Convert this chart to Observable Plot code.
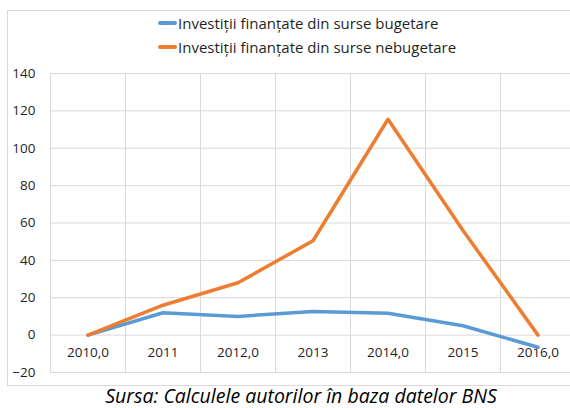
<!DOCTYPE html>
<html>
<head>
<meta charset="utf-8">
<script src="https://cdn.jsdelivr.net/npm/d3@7"></script>
<script src="https://cdn.jsdelivr.net/npm/@observablehq/plot@0.6"></script>
<style>
  html, body { margin: 0; padding: 0; background: #fff; }
  #wrap { position: relative; width: 570px; height: 408px; overflow: hidden; font-family: "Open Sans", sans-serif; }
  #frame { position: absolute; left: 7px; top: 10px; width: 600px; height: 376px; border: 1px solid #d9d9d9; box-sizing: border-box; }
  #legend { position: absolute; left: 158px; top: 11px; font-size: 15px; color: #1f1f1f; line-height: 24px; }
  #legend .item { display: flex; align-items: center; white-space: nowrap; }
  #legend .sw { width: 19px; height: 3.5px; margin-right: 1px; border-radius: 2px; }
  #caption { position: absolute; left: 0; width: 602px; top: 384px; text-align: center; font-style: italic; font-size: 19.5px; line-height: 24px; color: #000; }
  #chart { position: absolute; left: 0; top: 0; }
</style>
</head>
<body>
<div id="wrap">
  <div id="frame"></div>
  <div id="chart"></div>
  <div id="legend"></div>
  <div id="caption">Sursa: Calculele autorilor în baza datelor BNS</div>
</div>
<script>
const years = ["2010,0", "2011", "2012,0", "2013", "2014,0", "2015", "2016,0"];
const bugetare = [0, 12, 10, 12.7, 11.7, 5, -6.5];
const nebugetare = [0, 16, 28, 50.5, 115.5, 56, 0];
const seriesNames = ["Investiții finanțate din surse bugetare", "Investiții finanțate din surse nebugetare"];
const colors = ["#5B9BD5", "#ED7D31"];
const yTicks = [-20, 0, 20, 40, 60, 80, 100, 120, 140];

const rows = [];
years.forEach((y, i) => {
  rows.push({i, label: y, value: bugetare[i], series: seriesNames[0]});
  rows.push({i, label: y, value: nebugetare[i], series: seriesNames[1]});
});
const idx = years.map((_, i) => i);
const bounds = d3.range(-0.5, years.length, 1);

const chart = Plot.plot({
  width: 570,
  height: 408,
  marginLeft: 50,
  marginRight: -5,
  marginTop: 73,
  marginBottom: 36,
  style: {fontFamily: "Open Sans, sans-serif", fontSize: "13.5px", color: "#1f1f1f", background: "transparent"},
  x: {type: "linear", domain: [-0.5, years.length - 0.5], axis: null},
  y: {domain: [-20, 140], ticks: yTicks},
  color: {domain: seriesNames, range: colors},
  marks: [
    Plot.gridY(yTicks, {stroke: "#d9d9d9", strokeOpacity: 1, strokeWidth: 1}),
    Plot.ruleX(bounds, {stroke: "#d9d9d9", strokeOpacity: 1, strokeWidth: 1}),
    Plot.axisY(yTicks, {tickSize: 0, tickPadding: 15, label: null, fontSize: 13.5}),
    Plot.text(idx, {x: d => d, text: d => years[d], frameAnchor: "bottom", dy: -16, fontSize: 13.5, fill: "#1f1f1f"}),
    Plot.line(rows, {x: "i", y: "value", z: "series", stroke: "series", strokeWidth: 3.5, strokeLinejoin: "round", strokeLinecap: "round"})
  ]
});
document.getElementById("chart").appendChild(chart);

const legend = document.getElementById("legend");
seriesNames.forEach((n, k) => {
  const it = document.createElement("div");
  it.className = "item";
  const sw = document.createElement("span");
  sw.className = "sw";
  sw.style.background = colors[k];
  const t = document.createElement("span");
  t.textContent = n;
  it.appendChild(sw); it.appendChild(t);
  legend.appendChild(it);
});
</script>
</body>
</html>
